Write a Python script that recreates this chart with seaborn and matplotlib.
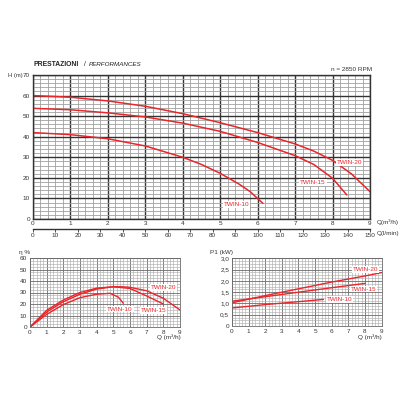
import numpy as np
import pandas as pd
import matplotlib
matplotlib.use("Agg")
import matplotlib.pyplot as plt
import matplotlib.ticker as mticker
import seaborn as sns

# ── Data ─────────────────────────────────────────────────────────────────
MODELS = ["TWIN-20", "TWIN-15", "TWIN-10"]

H_Q = {
    "TWIN-20": [0, 1, 2, 3, 4, 5, 6, 7, 7.5, 8, 8.5, 9],
    "TWIN-15": [0, 1, 2, 3, 4, 5, 6, 7, 7.5, 8, 8.38],
    "TWIN-10": [0, 1, 2, 3, 4, 4.5, 5, 5.5, 5.8, 6.14],
}
H_VAL = {
    "TWIN-20": [60, 59.2, 57.4, 54.8, 51.2, 46.8, 42, 36.5, 33, 28.5, 22, 13.3],
    "TWIN-15": [53.8, 53.1, 51.6, 49.6, 46.6, 42.6, 37.2, 30.8, 26.5, 19.8, 11.7],
    "TWIN-10": [42, 41, 39, 35.5, 30, 26.5, 22.2, 17, 13.3, 7.6],
}

ETA_Q = {
    "TWIN-20": [0, 1, 2, 3, 4, 5, 5.5, 6, 7, 8, 9],
    "TWIN-15": [0, 1, 2, 3, 4, 5, 6, 7, 8],
    "TWIN-10": [0, 1, 2, 3, 4, 4.8, 5.3, 5.6],
}
ETA_VAL = {
    "TWIN-20": [0, 14.5, 23.5, 30, 33.8, 35, 35, 34.5, 31.5, 25, 14.8],
    "TWIN-15": [0, 13, 22, 28.5, 33, 35, 33.5, 27, 20],
    "TWIN-10": [0, 11, 19.5, 25.5, 28.5, 29.3, 26, 20.6],
}

P_Q = {
    "TWIN-20": [0, 2, 4, 6, 8, 9],
    "TWIN-15": [0, 2, 4, 6, 8],
    "TWIN-10": [0, 2, 4, 5.5],
}
P_VAL = {
    "TWIN-20": [1.03, 1.35, 1.65, 1.95, 2.22, 2.37],
    "TWIN-15": [1.1, 1.3, 1.5, 1.7, 1.89],
    "TWIN-10": [0.8, 0.95, 1.08, 1.18],
}

P_TICKS = [0, 0.5, 1.0, 1.5, 2.0, 2.5, 3.0]
P_TICK_LABELS = ["0", "0,5", "1,0", "1,5", "2,0", "2,5", "3,0"]

RED = "#e8262b"
FS = 4.6

sns.set_theme(style="white")
plt.rcParams["font.family"] = ["Liberation Sans", "DejaVu Sans"]


def long_df(qd, vd):
    rows = []
    for m in MODELS:
        for q, v in zip(qd[m], vd[m]):
            rows.append((m, q, v))
    return pd.DataFrame(rows, columns=["model", "q", "v"])


def style_grid(ax, xminor, yminor, major_c, minor_c, major_lw, minor_lw):
    ax.xaxis.set_minor_locator(mticker.MultipleLocator(xminor))
    ax.yaxis.set_minor_locator(mticker.MultipleLocator(yminor))
    ax.grid(True, which="minor", color=minor_c, lw=minor_lw)
    ax.grid(True, which="major", color=major_c, lw=major_lw)
    ax.set_axisbelow(True)
    for s in ax.spines.values():
        s.set_color(major_c)
        s.set_linewidth(major_lw)
    ax.tick_params(which="both", length=0, labelsize=FS, pad=2, colors="#333")


def label(ax, x, y, txt):
    ax.text(x, y, txt, color=RED, fontsize=FS, ha="center", va="center",
            bbox=dict(facecolor="white", edgecolor="none", pad=0.6), zorder=5)


fig = plt.figure(figsize=(4, 4), dpi=100)

# ── Head curve ─────────────────────────────────────────────────────────
ax = fig.add_axes([0.0825, 0.4525, 0.8425, 0.36])
sns.lineplot(data=long_df(H_Q, H_VAL), x="q", y="v", hue="model",
             palette=[RED] * 3, linewidth=1.1, legend=False, ax=ax, sort=False)
ax.set_xlim(0, 9)
ax.set_ylim(0, 70)
ax.set_xticks(range(0, 10))
ax.set_yticks(range(0, 71, 10))
ax.set_xlabel("")
ax.set_ylabel("")
style_grid(ax, 0.2, 2, "#333333", "#a0a0a0", 1.0, 0.6)
ax.tick_params(axis="x", pad=1.5)
label(ax, 8.45, 27.6, "TWIN-20")
label(ax, 7.48, 17.8, "TWIN-15")
label(ax, 5.43, 7.1, "TWIN-10")

sec = ax.secondary_xaxis(-0.07, functions=(lambda q: q * 50 / 3, lambda l: l * 3 / 50))
sec.set_xticks(range(0, 151, 10))
sec.tick_params(labelsize=FS, length=2, width=0.6, pad=1, colors="#333")
sec.spines["bottom"].set_linewidth(1.0)
sec.spines["bottom"].set_color("#333")

fig.text(0.0825, 0.835, "PRESTAZIONI", fontsize=4.9, fontweight="bold", color="#222")
fig.text(0.21, 0.835, "/", fontsize=4.9, color="#222")
fig.text(0.223, 0.835, "PERFORMANCES", fontsize=4.5, style="italic", color="#222")
fig.text(0.93, 0.822, "n = 2850 RPM", fontsize=FS, ha="right", color="#333")
fig.text(0.056, 0.81, "H (m)", fontsize=4.2, color="#333", ha="right", va="center")
fig.text(0.943, 0.445, "Q(m³/h)", fontsize=FS, color="#333", va="center")
fig.text(0.943, 0.417, "Q(l/min)", fontsize=FS, color="#333", va="center")

# ── Efficiency ─────────────────────────────────────────────────────────
ax2 = fig.add_axes([0.075, 0.1825, 0.375, 0.1725])
sns.lineplot(data=long_df(ETA_Q, ETA_VAL), x="q", y="v", hue="model",
             palette=[RED] * 3, linewidth=1.0, legend=False, ax=ax2, sort=False)
ax2.set_xlim(0, 9)
ax2.set_ylim(0, 60)
ax2.set_xticks(range(0, 10))
ax2.set_yticks(range(0, 61, 10))
ax2.set_xlabel("")
ax2.set_ylabel("")
style_grid(ax2, 0.2, 2.5, "#6a6a6a", "#b0b0b0", 0.6, 0.45)
label(ax2, 8.0, 34.5, "TWIN-20")
label(ax2, 5.4, 15.6, "TWIN-10")
label(ax2, 7.4, 14.2, "TWIN-15")
fig.text(0.047, 0.368, "η %", fontsize=FS, color="#333", va="center")
fig.text(0.452, 0.158, "Q (m³/h)", fontsize=FS, color="#333", ha="right", va="center")

# ── Power input ────────────────────────────────────────────────────────
ax3 = fig.add_axes([0.58, 0.185, 0.374, 0.169])
sns.lineplot(data=long_df(P_Q, P_VAL), x="q", y="v", hue="model",
             palette=[RED] * 3, linewidth=1.0, legend=False, ax=ax3, sort=False)
ax3.set_xlim(0, 9)
ax3.set_ylim(0, 3)
ax3.set_xticks(range(0, 10))
ax3.set_yticks(P_TICKS)
ax3.set_yticklabels(P_TICK_LABELS)
ax3.set_xlabel("")
ax3.set_ylabel("")
style_grid(ax3, 0.2, 0.125, "#6a6a6a", "#b0b0b0", 0.6, 0.45)
label(ax3, 8.02, 2.52, "TWIN-20")
label(ax3, 7.91, 1.64, "TWIN-15")
label(ax3, 6.47, 1.19, "TWIN-10")
fig.text(0.525, 0.368, "P1 (kW)", fontsize=FS, color="#333", va="center")
fig.text(0.955, 0.158, "Q (m³/h)", fontsize=FS, color="#333", ha="right", va="center")

fig.savefig("out.png", dpi=100, facecolor="white")
